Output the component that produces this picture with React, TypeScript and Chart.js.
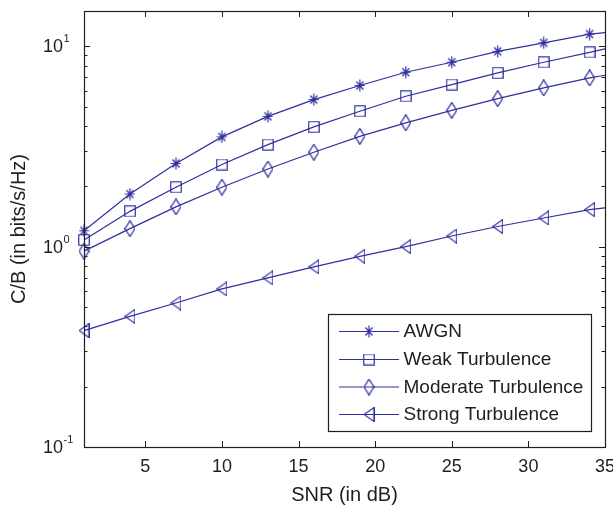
import { useEffect, useRef } from 'react';
import { Chart, registerables } from 'chart.js';

Chart.register(...registerables);

// ---- data ----
const snr = [1, 4, 7, 10, 13, 16, 19, 22, 25, 28, 31, 34, 35];
const awgn = [1.2, 1.83, 2.6, 3.53, 4.47, 5.42, 6.37, 7.42, 8.32, 9.44, 10.4, 11.5, 11.7];
const weak = [1.08, 1.5, 1.98, 2.57, 3.23, 3.96, 4.74, 5.63, 6.44, 7.36, 8.32, 9.33, 9.7];
const moderate = [0.95, 1.23, 1.58, 1.98, 2.44, 2.96, 3.55, 4.15, 4.79, 5.48, 6.2, 6.95, 7.17];
const strong = [0.381, 0.449, 0.523, 0.615, 0.698, 0.792, 0.895, 1.0, 1.13, 1.26, 1.39, 1.53, 1.56];
const seriesNames = ['AWGN', 'Weak Turbulence', 'Moderate Turbulence', 'Strong Turbulence'];
const markerKinds = ['star', 'square', 'diamond', 'triangleLeft'];
const xTicks = [5, 10, 15, 20, 25, 30, 35];
const yDecades = [-1, 0, 1];
const xTitle = 'SNR (in dB)';
const yTitle = 'C/B (in bits/s/Hz)';

const LINE = '#2f2f9f';
const INK = '#1e1e1e';
const FONT = '"Liberation Sans", Arial, sans-serif';

function makeMarker(kind: string): HTMLCanvasElement {
  const c = document.createElement('canvas');
  let w = 11, h = 11;
  if (kind === 'star') { w = 11; h = 13; }
  if (kind === 'square') { w = 12; h = 12; }
  if (kind === 'diamond') { w = 11; h = 17; }
  if (kind === 'triangleLeft') { w = 11; h = 15; }
  c.width = w; c.height = h;
  const g = c.getContext('2d')!;
  g.strokeStyle = LINE;
  g.lineWidth = 1.2;
  g.beginPath();
  if (kind === 'star') {
    const cx = w / 2, cy = h / 2;
    g.moveTo(cx, 0.5); g.lineTo(cx, h - 0.5);
    g.moveTo(0.5, cy); g.lineTo(w - 0.5, cy);
    g.moveTo(cx - 3.5, cy - 4); g.lineTo(cx + 3.5, cy + 4);
    g.moveTo(cx + 3.5, cy - 4); g.lineTo(cx - 3.5, cy + 4);
  } else if (kind === 'square') {
    g.rect(0.75, 0.75, w - 1.5, h - 1.5);
  } else if (kind === 'diamond') {
    g.moveTo(w / 2, 0.6); g.lineTo(w - 0.6, h / 2); g.lineTo(w / 2, h - 0.6); g.lineTo(0.6, h / 2); g.closePath();
  } else {
    g.moveTo(0.6, h / 2); g.lineTo(w - 0.6, 0.6); g.lineTo(w - 0.6, h - 0.6); g.closePath();
  }
  g.stroke();
  return c;
}

const matlabPlugin = {
  id: 'matlabAxes',
  afterDatasetsDraw(chart: any) {
    const { ctx, chartArea: a, scales } = chart;
    const xs = scales.x, ys = scales.y;
    ctx.save();
    // box
    ctx.strokeStyle = INK;
    ctx.lineWidth = 1.2;
    ctx.strokeRect(Math.round(a.left) + 0.5, Math.round(a.top) + 0.5, Math.round(a.right - a.left), Math.round(a.bottom - a.top));
    // x ticks (inward, top and bottom)
    ctx.lineWidth = 1;
    ctx.beginPath();
    xTicks.forEach((v) => {
      const px = Math.round(xs.getPixelForValue(v)) + 0.5;
      ctx.moveTo(px, a.bottom); ctx.lineTo(px, a.bottom - 6);
      ctx.moveTo(px, a.top); ctx.lineTo(px, a.top + 6);
    });
    // y ticks (major + minor, left and right)
    yDecades.forEach((d) => {
      for (let m = 1; m <= 9; m++) {
        const v = m * Math.pow(10, d);
        if (v < ys.min - 1e-9 || v > ys.max + 1e-9) continue;
        const py = Math.round(ys.getPixelForValue(v)) + 0.5;
        const len = m === 1 ? 6 : 3.5;
        ctx.moveTo(a.left, py); ctx.lineTo(a.left + len, py);
        ctx.moveTo(a.right, py); ctx.lineTo(a.right - len, py);
      }
    });
    ctx.stroke();
    // y tick labels 10^d
    ctx.fillStyle = INK;
    yDecades.forEach((d) => {
      const py = ys.getPixelForValue(Math.pow(10, d));
      ctx.font = `18px ${FONT}`;
      ctx.textAlign = 'right';
      ctx.textBaseline = 'middle';
      ctx.fillText('10', 63, py + 1);
      ctx.font = `11px ${FONT}`;
      ctx.textAlign = 'left';
      ctx.fillText(String(d), 63.5, py - 7);
    });
    // legend
    const bx = 328.5, by = 314.5, bw = 263, bh = 117;
    ctx.fillStyle = '#ffffff';
    ctx.fillRect(bx, by, bw, bh);
    ctx.strokeStyle = INK;
    ctx.lineWidth = 1.2;
    ctx.strokeRect(bx, by, bw, bh);
    const rows = [331, 359, 386.5, 414];
    chart.data.datasets.forEach((ds: any, i: number) => {
      const ry = rows[i];
      ctx.strokeStyle = LINE;
      ctx.lineWidth = 1.2;
      ctx.beginPath();
      ctx.moveTo(339, ry + 0.5); ctx.lineTo(399, ry + 0.5);
      ctx.stroke();
      const img = ds.pointStyle as HTMLCanvasElement;
      ctx.drawImage(img, 369 - img.width / 2, ry + 0.5 - img.height / 2);
      ctx.fillStyle = INK;
      ctx.font = `19px ${FONT}`;
      ctx.textAlign = 'left';
      ctx.textBaseline = 'middle';
      ctx.fillText(ds.label, 403.5, ry + 1);
    });
    ctx.restore();
  },
};

export default function App() {
  const ref = useRef<HTMLCanvasElement | null>(null);
  useEffect(() => {
    if (!ref.current) return;
    const series = [awgn, weak, moderate, strong];
    const last = snr.length - 1;
    const chart = new Chart(ref.current, {
      type: 'line',
      data: {
        datasets: series.map((vals, i) => ({
          label: seriesNames[i],
          data: snr.map((x, j) => ({ x, y: vals[j] })),
          borderColor: LINE,
          backgroundColor: LINE,
          borderWidth: 1.2,
          pointStyle: makeMarker(markerKinds[i]) as any,
          pointRadius: (c: any) => (c.dataIndex === last ? 0 : 6),
          pointHoverRadius: (c: any) => (c.dataIndex === last ? 0 : 6),
          tension: 0,
          fill: false,
          clip: false as any,
        })),
      },
      options: {
        responsive: false,
        animation: false,
        events: [],
        layout: { padding: { top: 11, right: 8, left: 0, bottom: 0 } },
        plugins: { legend: { display: false }, tooltip: { enabled: false } },
        scales: {
          x: {
            type: 'linear',
            min: 1,
            max: 35,
            grid: { display: false, drawTicks: false },
            border: { display: false },
            ticks: {
              color: INK,
              font: { family: FONT, size: 18 },
              padding: 9,
              maxRotation: 0,
              callback: (v: any) => String(v),
            },
            afterBuildTicks: (s: any) => {
              s.ticks = xTicks.map((v) => ({ value: v }));
            },
            afterFit: (s: any) => {
              s.height = 62;
              s.paddingLeft = 0;
              s.paddingRight = 0;
            },
            title: {
              display: true,
              text: xTitle,
              color: INK,
              font: { family: FONT, size: 20, lineHeight: 1.2 },
              padding: { top: 0, bottom: 2 },
            },
          },
          y: {
            type: 'logarithmic',
            min: 0.1,
            max: 15,
            grid: { display: false, drawTicks: false },
            border: { display: false },
            ticks: { display: false },
            afterFit: (s: any) => {
              s.width = 84;
            },
            title: {
              display: true,
              text: yTitle,
              color: INK,
              font: { family: FONT, size: 20, lineHeight: 1.2 },
              padding: { top: 7.5, bottom: 0 },
            },
          },
        },
      },
      plugins: [matlabPlugin],
    });
    return () => chart.destroy();
  }, []);
  return (
    <div style={{ position: 'fixed', left: 0, top: 0, width: 613, height: 509, background: '#fff' }}>
      <canvas ref={ref} width={613} height={509} style={{ display: 'block' }} />
    </div>
  );
}
